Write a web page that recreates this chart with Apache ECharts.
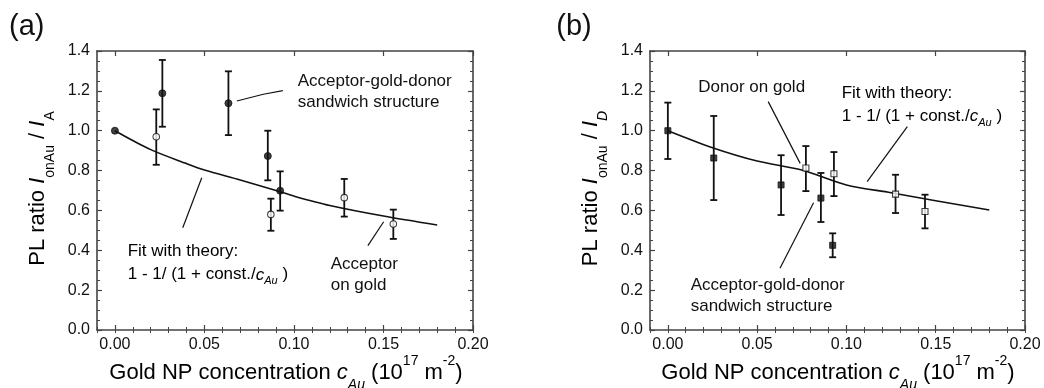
<!DOCTYPE html>
<html>
<head>
<meta charset="utf-8">
<script src="https://cdn.jsdelivr.net/npm/echarts@6/dist/echarts.min.js"></script>
<style>
  html, body { margin: 0; padding: 0; background: #fff; }
  #chart { width: 1044px; height: 388px; }
</style>
</head>
<body>
<div id="chart"></div>
<script>
// ---- data ----
const xMajor = [0, 0.05, 0.10, 0.15, 0.20];

// (a) acceptor
const aSandX = [0, 0.0265, 0.0634, 0.0854, 0.0923];
const aSandY = [1.00, 1.188, 1.138, 0.873, 0.699];
const aSandLo = [null, 1.02, 0.978, 0.751, 0.599];
const aSandHi = [null, 1.355, 1.298, 1.00, 0.796];

const aGoldX = [0.0231, 0.0871, 0.1281, 0.1555];
const aGoldY = [0.970, 0.580, 0.664, 0.532];
const aGoldLo = [0.829, 0.498, 0.569, 0.457];
const aGoldHi = [1.107, 0.659, 0.758, 0.604];

const aFitX = [0, 0.02, 0.04, 0.05, 0.07, 0.09, 0.10, 0.12, 0.15, 0.18];
const aFitY = [1.00, 0.905, 0.835, 0.803, 0.753, 0.700, 0.672, 0.625, 0.572, 0.527];

// (b) donor
const bSandX = [0, 0.0257, 0.0634, 0.0857, 0.0923];
const bSandY = [1.00, 0.863, 0.728, 0.662, 0.425];
const bSandLo = [0.858, 0.652, 0.577, 0.542, 0.365];
const bSandHi = [1.141, 1.074, 0.877, 0.788, 0.485];

const bGoldX = [0.0773, 0.0930, 0.1275, 0.1440];
const bGoldY = [0.813, 0.784, 0.682, 0.595];
const bGoldLo = [0.697, 0.672, 0.587, 0.510];
const bGoldHi = [0.923, 0.893, 0.779, 0.679];

const bFitX = [0, 0.025, 0.05, 0.075, 0.10, 0.125, 0.15, 0.18];
const bFitY = [1.00, 0.915, 0.848, 0.803, 0.728, 0.689, 0.649, 0.602];

// annotation leader lines (data coordinates)
const aLeadSand = [[0.0681, 1.149], [0.0829, 1.183], [0.0938, 1.201]];
const aLeadFit = [[0.0379, 0.513], [0.0485, 0.764]];
const aLeadGold = [[0.1413, 0.423], [0.1501, 0.543]];
const bLeadGold = [[0.0562, 1.146], [0.0741, 0.836]];
const bLeadFit = [[0.1116, 0.745], [0.1341, 1.020]];
const bLeadSand = [[0.0628, 0.310], [0.0816, 0.639]];

// ---- helpers ----
const FONT = '"Liberation Sans", Arial, Helvetica, sans-serif';
const INK = '#111';
const FRAME = '#444';

function zip(xs, ys) { return xs.map((x, i) => [x, ys[i]]); }
function errData(xs, lo, hi) {
  const out = [];
  xs.forEach((x, i) => { if (lo[i] != null) out.push([x, lo[i], hi[i]]); });
  return out;
}

function errRenderItem(params, api) {
  const x = api.value(0);
  const top = api.coord([x, api.value(2)]);
  const bot = api.coord([x, api.value(1)]);
  const w = 3.5;
  const st = { stroke: INK, lineWidth: 1.8 };
  return {
    type: 'group',
    children: [
      { type: 'line', shape: { x1: top[0], y1: top[1], x2: bot[0], y2: bot[1] }, style: st },
      { type: 'line', shape: { x1: top[0] - w, y1: top[1], x2: top[0] + w, y2: top[1] }, style: st },
      { type: 'line', shape: { x1: bot[0] - w, y1: bot[1], x2: bot[0] + w, y2: bot[1] }, style: st }
    ]
  };
}

function xAxes(gi) {
  const base = {
    gridIndex: gi, type: 'value', min: -0.01, max: 0.2,
    splitLine: { show: false },
    axisLine: { show: true, onZero: false, lineStyle: { color: FRAME, width: 1.6 } }
  };
  return [
    Object.assign({}, base, {
      position: 'bottom',
      axisTick: { inside: true, length: 5, customValues: xMajor, lineStyle: { color: FRAME, width: 1.2 } },
      axisLabel: {
        customValues: xMajor, margin: 7, fontSize: 16, fontFamily: FONT, color: INK,
        formatter: v => v.toFixed(2)
      }
    }),
    Object.assign({}, base, {
      position: 'top',
      axisTick: { inside: true, length: 5, customValues: xMajor, lineStyle: { color: FRAME, width: 1.2 } },
      axisLabel: { show: false }
    }),
    Object.assign({}, base, {
      position: 'bottom', interval: 0.01, axisLine: { show: false },
      axisTick: { inside: true, length: 3, lineStyle: { color: FRAME, width: 1 } },
      axisLabel: { show: false }
    }),
    Object.assign({}, base, {
      position: 'top', interval: 0.01, axisLine: { show: false },
      axisTick: { inside: true, length: 3, lineStyle: { color: FRAME, width: 1 } },
      axisLabel: { show: false }
    })
  ];
}

function yAxes(gi) {
  const base = {
    gridIndex: gi, type: 'value', min: 0, max: 1.4, interval: 0.2,
    splitLine: { show: false },
    axisLine: { show: true, onZero: false, lineStyle: { color: FRAME, width: 1.6 } },
    axisTick: { inside: true, length: 5, lineStyle: { color: FRAME, width: 1.2 } },
    minorTick: { show: true, splitNumber: 4, length: 3, lineStyle: { color: FRAME, width: 1 } },
    minorSplitLine: { show: false }
  };
  return [
    Object.assign({}, base, {
      position: 'left',
      axisLabel: { margin: 7, fontSize: 16, fontFamily: FONT, color: INK, formatter: v => v.toFixed(1) }
    }),
    Object.assign({}, base, { position: 'right', axisLabel: { show: false } })
  ];
}

function panelSeries(xi, yi, sx, sy, slo, shi, gx, gy, glo, ghi, fx, fy, leads, sym) {
  const list = [
    { type: 'custom', xAxisIndex: xi, yAxisIndex: yi, renderItem: errRenderItem, data: errData(sx, slo, shi), z: 3, silent: true },
    { type: 'custom', xAxisIndex: xi, yAxisIndex: yi, renderItem: errRenderItem, data: errData(gx, glo, ghi), z: 3, silent: true },
    {
      type: 'line', xAxisIndex: xi, yAxisIndex: yi, data: zip(fx, fy), smooth: 0.3,
      showSymbol: false, lineStyle: { color: INK, width: 1.6 }, z: 2, silent: true
    }
  ];
  leads.forEach(ld => list.push({
    type: 'line', xAxisIndex: xi, yAxisIndex: yi, data: ld, showSymbol: false,
    lineStyle: { color: INK, width: 1.2 }, z: 2, silent: true
  }));
  list.push({
    type: 'scatter', xAxisIndex: xi, yAxisIndex: yi, data: zip(sx, sy), symbol: sym,
    symbolSize: sym === 'circle' ? 7 : 6, itemStyle: { color: INK, borderColor: INK, borderWidth: 1 }, z: 5, silent: true
  });
  list.push({
    type: 'scatter', xAxisIndex: xi, yAxisIndex: yi, data: zip(gx, gy), symbol: sym,
    symbolSize: sym === 'circle' ? 6.5 : 6, itemStyle: { color: '#fff', borderColor: INK, borderWidth: 1.1 }, z: 5, silent: true
  });
  return list;
}

// rich text styles
const richTitle = {
  n: { fontSize: 22, fontFamily: FONT, color: INK, lineHeight: 38 },
  i: { fontSize: 22, fontFamily: FONT, color: INK, fontStyle: 'italic', lineHeight: 38 },
  sub: { fontSize: 14, fontFamily: FONT, color: INK, lineHeight: 14, verticalAlign: 'bottom' },
  subi: { fontSize: 14, fontFamily: FONT, color: INK, fontStyle: 'italic', lineHeight: 14, verticalAlign: 'bottom' },
  sup: { fontSize: 14, fontFamily: FONT, color: INK, lineHeight: 30, verticalAlign: 'top' }
};
const richNote = {
  n: { fontSize: 17, fontFamily: FONT, color: INK, lineHeight: 23 },
  i: { fontSize: 17, fontFamily: FONT, color: INK, fontStyle: 'italic', lineHeight: 23 },
  subi: { fontSize: 11, fontFamily: FONT, color: INK, fontStyle: 'italic', lineHeight: 11, verticalAlign: 'bottom' }
};

function txt(x, y, text, opts) {
  return Object.assign({
    type: 'text', x: x, y: y, silent: true,
    style: { text: text, font: '17px ' + FONT, fill: INK, align: 'left', verticalAlign: 'middle', lineHeight: 21 }
  }, opts || {});
}

const xTitle = '{n|Gold NP concentration }{i|c}{subi|Au}{n| (10}{sup|17}{n| m}{sup|-2}{n|)}';
const fitLine2 = '{n|1 - 1/ (1 + const./}{i|c}{subi|Au}{n| )}';

const graphics = [
  txt(26.7, 26.7, '(a)', { style: { text: '(a)', font: '29px ' + FONT, fill: INK, align: 'center', verticalAlign: 'middle' } }),
  txt(574, 26.7, '(b)', { style: { text: '(b)', font: '29px ' + FONT, fill: INK, align: 'center', verticalAlign: 'middle' } }),
  // axis titles
  { type: 'text', x: 286, y: 373, silent: true, style: { text: xTitle, rich: richTitle, align: 'center', verticalAlign: 'middle' } },
  { type: 'text', x: 838, y: 373, silent: true, style: { text: xTitle, rich: richTitle, align: 'center', verticalAlign: 'middle' } },
  {
    type: 'text', x: 38, y: 188.5, rotation: Math.PI / 2, silent: true,
    style: { text: '{n|PL ratio }{i|I}{sub|onAu}{n| / }{i|I}{sub|A}', rich: richTitle, align: 'center', verticalAlign: 'middle' }
  },
  {
    type: 'text', x: 591, y: 188.5, rotation: Math.PI / 2, silent: true,
    style: { text: '{n|PL ratio }{i|I}{sub|onAu}{n| / }{i|I}{subi|D}', rich: richTitle, align: 'center', verticalAlign: 'middle' }
  },
  // (a) notes
  txt(297.7, 92.3, 'Acceptor-gold-donor\nsandwich structure'),
  { type: 'text', x: 127.7, y: 263.3, silent: true, style: { text: '{n|Fit with theory:}\n' + fitLine2, rich: richNote, align: 'left', verticalAlign: 'middle' } },
  txt(330.7, 274.6, 'Acceptor\non gold'),
  // (b) notes
  txt(698.3, 87.3, 'Donor on gold'),
  { type: 'text', x: 841.7, y: 105, silent: true, style: { text: '{n|Fit with theory:}\n' + fitLine2, rich: richNote, align: 'left', verticalAlign: 'middle' } },
  txt(690.7, 295.8, 'Acceptor-gold-donor\nsandwich structure')
];

const chart = echarts.init(document.getElementById('chart'), null, { renderer: 'canvas' });
chart.setOption({
  animation: false,
  backgroundColor: '#fff',
  textStyle: { fontFamily: FONT },
  grid: [
    { left: 97, top: 51, width: 376, height: 279 },
    { left: 650, top: 51, width: 375, height: 279 }
  ],
  xAxis: xAxes(0).concat(xAxes(1)),
  yAxis: yAxes(0).concat(yAxes(1)),
  series: panelSeries(0, 0, aSandX, aSandY, aSandLo, aSandHi, aGoldX, aGoldY, aGoldLo, aGoldHi,
      aFitX, aFitY, [aLeadSand, aLeadFit, aLeadGold], 'circle')
    .concat(panelSeries(4, 2, bSandX, bSandY, bSandLo, bSandHi, bGoldX, bGoldY, bGoldLo, bGoldHi,
      bFitX, bFitY, [bLeadGold, bLeadFit, bLeadSand], 'rect')),
  graphic: graphics
});
</script>
</body>
</html>
